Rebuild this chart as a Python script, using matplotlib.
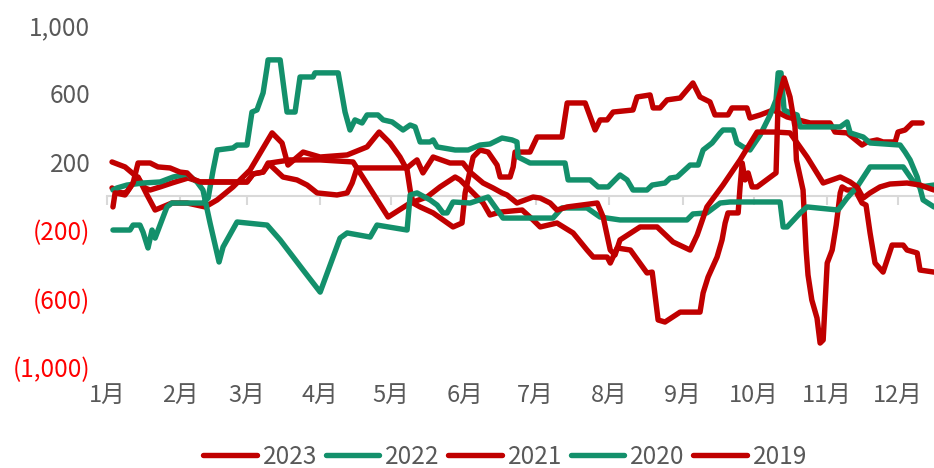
import matplotlib
matplotlib.use("Agg")
import matplotlib.pyplot as plt

plt.rcParams['font.family'] = ['Noto Sans CJK SC', 'DejaVu Sans']

RED = '#C00000'
GREEN = '#13906B'
GRAY_TXT = '#595959'
NEG_TXT = '#FF0000'

months = ['1月', '2月', '3月', '4月', '5月', '6月', '7月', '8月', '9月', '10月', '11月', '12月']
month_start_days = [0, 31, 59, 90, 120, 151, 181, 212, 243, 273, 304, 334]
y_ticks = [-1000, -600, -200, 200, 600, 1000]

# ---- 2023 (red) ----
d2023 = [2.1, 4.6, 6.8, 8.4, 11.0, 13.1, 16.9, 20.3, 27.4, 33.8, 41.4, 46.5, 53.2, 60.4, 69.7, 73.9,
         76.4, 82.8, 90.0, 101.4, 109.8, 114.9, 119.5, 123.7, 126.7, 128.0, 129.2, 132.2, 137.7, 141.9,
         146.1, 149.9, 151.2, 154.6, 157.5, 160.9, 164.7, 166.0, 170.2, 171.5, 172.3, 178.6, 181.6, 192.1,
         194.3, 201.9, 206.1, 208.2, 211.2, 213.7, 222.1, 223.8, 229.3, 230.6, 233.5, 236.5, 242.0, 247.4,
         250.4, 254.6, 256.7, 262.2, 263.9, 270.2, 271.5, 275.8, 281.3, 287.2, 296.9, 305.3, 307.4, 312.5,
         318.8, 321.0, 325.2, 327.7, 332.8, 334.0, 337.0, 340.0, 344.2]
v2023 = [47, 23, 18, 23, 76, 111, 6, -82, -41, -41, -64, -23, 53, 152, 369, 310,
         181, 257, 228, 240, 287, 374, 310, 228, 152, 35, -41, -64, -99, -140,
         -181, -158, 18, 228, 269, 257, 181, 111, 111, 170, 257, 257, 345, 345,
         544, 544, 386, 445, 445, 491, 503, 579, 591, 515, 515, 562, 573, 661,
         579, 550, 474, 474, 515, 515, 456, 474, 503, 462, 427, 427, 374, 369,
         298, 316, 328, 316, 316, 374, 386, 427, 427]

# ---- 2022 (green) ----
d2022 = [2.5, 9.7, 11.0, 13.9, 15.2, 17.3, 19.0, 20.3, 23.2, 25.3, 27.4, 40.5, 42.7, 44.8, 46.5, 53.2,
         54.9, 59.1, 61.2, 63.3, 65.9, 67.6, 68.0, 73.1, 76.0, 79.4, 81.5, 87.0, 87.8, 97.6, 100.5,
         102.6, 104.7, 107.7, 109.8, 114.4, 116.6, 120.4, 125.0, 128.0, 130.1, 132.2, 136.4, 137.7, 139.4,
         147.0, 152.5, 157.5, 161.7, 166.8, 171.0, 173.1, 173.6, 178.6, 193.4, 194.7, 204.0, 207.4, 211.6,
         214.5, 216.6, 219.6, 222.1, 228.0, 230.2, 235.6, 237.8, 240.7, 246.2, 249.6, 251.7, 255.5, 258.9,
         260.1, 264.4, 266.0, 268.6, 271.5, 275.8, 280.0, 282.5, 283.4, 284.6, 285.9, 288.4, 291.4, 292.7,
         309.6, 312.5, 313.8, 319.3, 322.2, 334.9, 337.0, 339.1, 342.1, 344.6, 349.2]
v2022 = [-199, -199, -170, -170, -211, -304, -199, -246, -140, -64, -41, -41, -12, 152, 269, 281,
         298, 298, 491, 503, 603, 755, 796, 796, 491, 491, 696, 696, 720, 720, 491,
         386, 445, 427, 474, 474, 445, 433, 386, 415, 404, 316, 316, 328, 287,
         269, 269, 298, 304, 339, 328, 316, 228, 193, 193, 94, 94, 53, 53,
         94, 123, 94, 35, 35, 64, 76, 105, 111, 181, 181, 269, 310, 369,
         386, 386, 310, 287, 269, 357, 474, 562, 720, 720, 503, 486, 474, 404,
         404, 433, 369, 345, 310, 298, 257, 211, 111, -23, -64]

# ---- 2021 (red) ----
d2021 = [2.1, 5.5, 7.6, 10.6, 13.1, 16.0, 18.2, 22.4, 27.4, 34.2, 39.3, 59.1, 61.7, 65.9, 68.8, 77.3,
         90.0, 103.9, 118.7, 128.0, 135.1, 140.6, 147.0, 149.1, 154.6, 158.8, 161.7, 166.0, 175.3, 179.9,
         182.9, 190.0, 196.8, 202.7, 205.3, 211.2, 212.5, 215.4, 221.0, 228.0, 230.2, 232.7, 235.6, 242.0,
         250.4, 251.7, 253.8, 257.6, 259.7, 261.0, 262.2, 266.5, 267.3, 268.2, 269.4, 270.7, 272.4, 274.5,
         281.3, 282.5, 283.4, 285.9, 288.4, 290.5, 291.1, 293.9, 295.2, 296.0, 297.6, 299.8, 301.1, 302.4,
         304.1, 306.2, 307.9, 309.6, 310.4, 312.5, 315.9, 318.8, 320.5, 322.2, 324.3, 327.7, 329.4, 331.5,
         336.2, 337.8, 342.1, 343.3, 349.2]
v2021 = [199, 181, 170, 135, 105, 47, 35, 53, 76, 105, 82, 82, 129, 140, 193, 211,
         211, 199, -123, -41, -6, 53, 111, 94, 18, -41, -111, -94, -82, -140,
         -181, -158, -216, -316, -357, -357, -392, -304, -316, -450, -445, -725, -737, -679,
         -679, -567, -474, -357, -257, -158, -99, -99, 53, 193, 94, 135, 53, 53,
         123, 135, 562, 690, 579, 404, 211, 35, -316, -462, -608, -714, -860, -842,
         -392, -316, -170, 18, 53, 35, 35, -41, -53, -216, -392, -445, -374, -287,
         -287, -316, -333, -433, -445]

# ---- 2020 (green) ----
d2020 = [2.5, 4.2, 8.4, 15.2, 22.4, 27.9, 33.8, 38.0, 40.5, 43.5, 47.3, 49.0, 54.9, 67.6, 73.1, 82.8,
         90.0, 98.4, 101.4, 111.1, 114.0, 126.7, 128.0, 130.9, 136.4, 139.4, 141.9, 143.6, 146.1, 153.3,
         160.9, 167.2, 188.3, 192.1, 202.7, 208.2, 216.6, 244.9, 247.4, 253.3, 258.9, 263.1, 284.2, 285.5,
         287.2, 292.7, 295.6, 308.7, 312.5, 316.7, 322.2, 336.2, 340.0, 343.3, 349.2]
v2020 = [35, 47, 64, 76, 82, 111, 129, 82, 35, -158, -386, -298, -152, -170, -257, -433,
         -562, -246, -216, -240, -170, -199, 6, 18, -23, -53, -99, -99, -35, -41,
         -6, -129, -129, -70, -70, -123, -140, -140, -105, -99, -41, -35, -35, -181,
         -181, -99, -64, -82, -12, 53, 170, 170, 94, 53, 64]

# ---- 2019 (red) ----
d2019 = [2.5, 3.4, 7.6, 11.0, 13.1, 18.2, 21.5, 26.6, 30.8, 33.8, 36.3, 39.3, 59.1, 61.7, 65.9, 68.0,
         74.3, 80.2, 84.5, 88.7, 97.1, 101.4, 103.5, 105.6, 126.7, 129.2, 130.9, 133.4, 137.7, 144.8,
         150.3, 153.3, 156.3, 158.8, 163.0, 166.8, 168.9, 173.1, 179.9, 182.9, 187.1, 190.0, 194.3, 207.0,
         209.5, 212.5, 214.5, 216.6, 225.1, 232.3, 239.0, 246.2, 249.2, 253.3, 260.1, 267.3, 274.5, 282.1,
         288.4, 295.6, 302.4, 309.6, 313.8, 316.7, 319.3, 322.2, 326.4, 330.6, 337.8, 343.3, 349.2]
v2019 = [-64, 18, 6, 76, 193, 193, 170, 164, 140, 135, 99, 82, 82, 129, 140, 193,
         111, 94, 64, 18, 6, 18, 76, 164, 164, 193, 211, 135, 228, 193,
         193, 140, 105, 76, 47, 18, 6, -41, -6, -12, -41, -82, -64, -41,
         -123, -316, -345, -257, -181, -181, -269, -316, -228, -64, 64, 211, 374, 374,
         369, 228, 76, 111, 82, 53, -12, 18, 53, 70, 76, 64, 35]

series = [
    ('2023', d2023, v2023, RED),
    ('2022', d2022, v2022, GREEN),
    ('2021', d2021, v2021, RED),
    ('2020', d2020, v2020, GREEN),
    ('2019', d2019, v2019, RED),
]


def fmt(v):
    s = f"{abs(v):,}"
    return f"({s})" if v < 0 else s


fig = plt.figure(figsize=(9.34, 4.68), dpi=100)
ax = fig.add_axes([0.1146, 0.2158, 0.8854, 0.7308])

for name, d, v, c in series:
    ax.plot(d, v, color=c, lw=3.9, solid_joinstyle='round', solid_capstyle='round',
            zorder=3, label=name)

ax.set_xlim(0, 349.2)
ax.set_ylim(-1000, 1000)
for sp in ax.spines.values():
    sp.set_visible(False)

ax.set_yticks(y_ticks)
ax.set_yticklabels([fmt(v) for v in y_ticks])
ax.tick_params(axis='y', length=0, pad=12, labelsize=17.5)
for lbl, v in zip(ax.get_yticklabels(), y_ticks):
    lbl.set_color(NEG_TXT if v < 0 else GRAY_TXT)

ax.set_xticks(month_start_days)
ax.set_xticklabels(months)
ax.tick_params(axis='x', length=0, pad=12, labelsize=17, labelcolor=GRAY_TXT)

# zero axis line with tick marks
sec = ax.secondary_xaxis(0.5)
sec.set_alignment('bottom')
sec.set_xticks(month_start_days)
sec.tick_params(axis='x', length=6.5, width=1.5, color='#D9D9D9', direction='out',
                labelbottom=False, labeltop=False)
sec.spines['bottom'].set_color('#D9D9D9')
sec.spines['bottom'].set_linewidth(1.5)

fig.legend(loc='center', bbox_to_anchor=(0.541, 0.024), ncol=5, frameon=False,
           fontsize=17.5, handlelength=2.2, handletextpad=0.25, columnspacing=0.35,
           labelcolor=GRAY_TXT)

fig.savefig('out.png', dpi=100)
